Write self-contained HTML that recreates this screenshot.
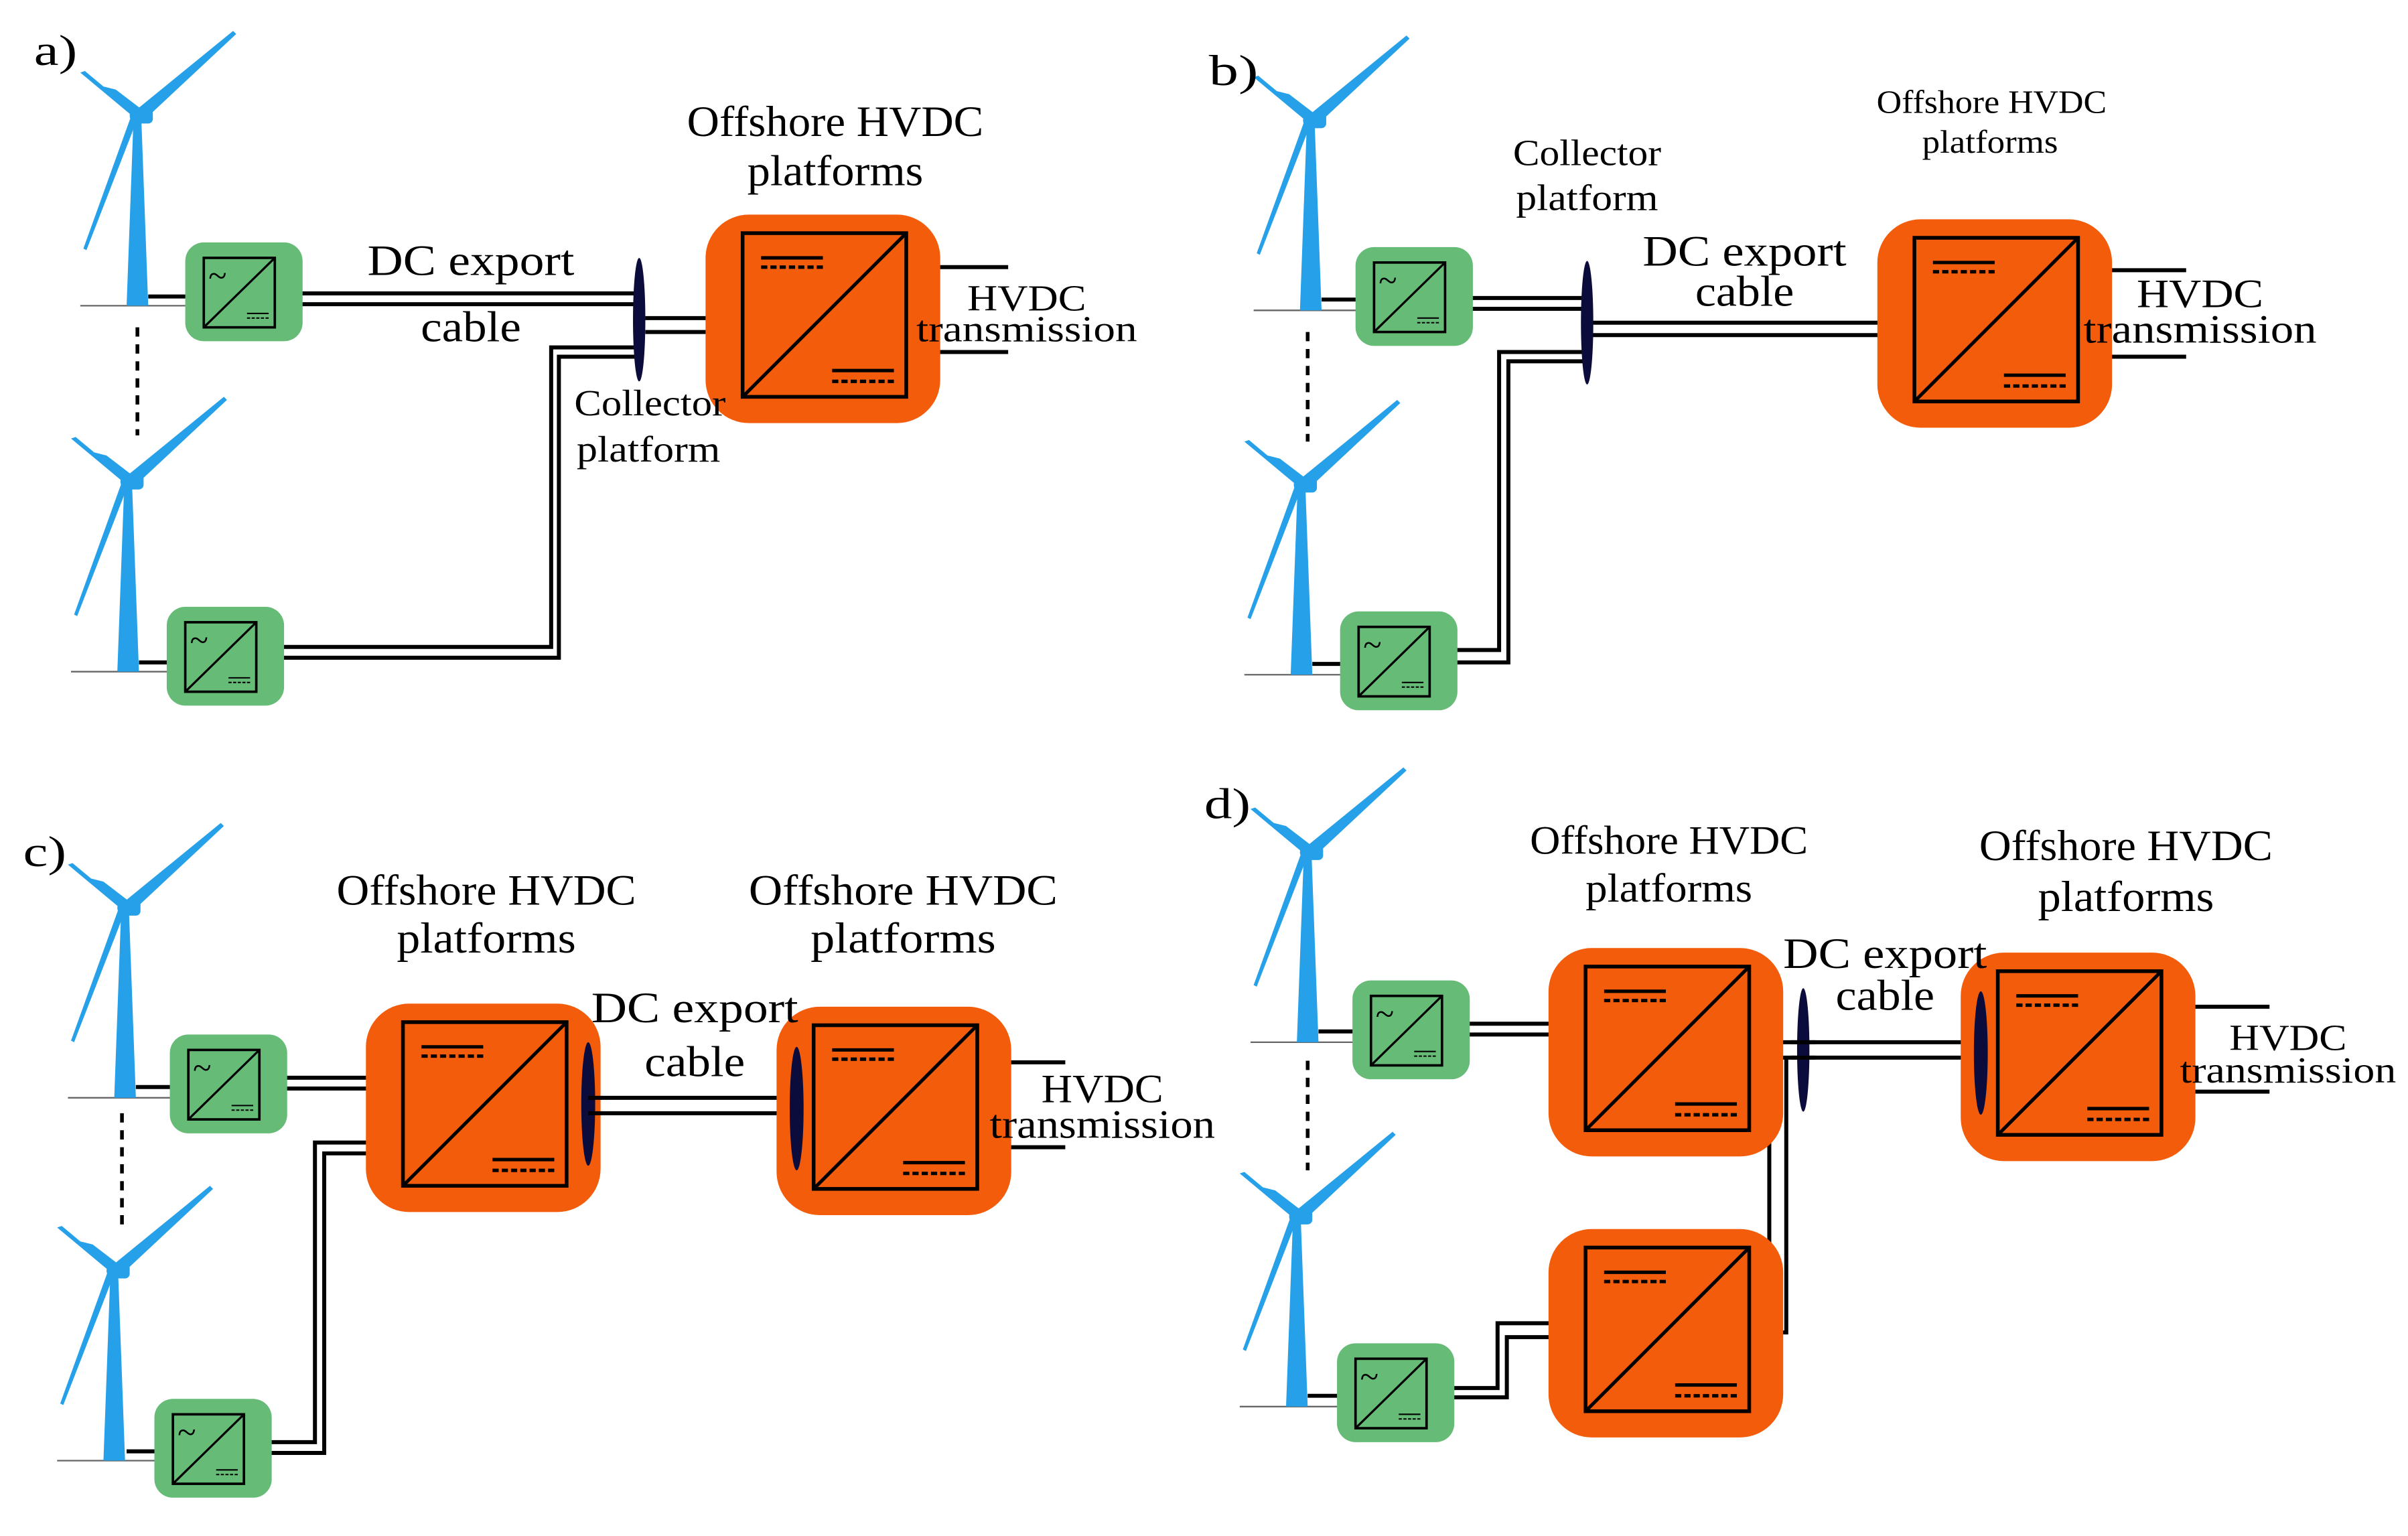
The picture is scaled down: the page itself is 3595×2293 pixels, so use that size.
<!DOCTYPE html>
<html><head><meta charset="utf-8"><style>html,body{margin:0;padding:0;background:#fff}svg{display:block}text{font-family:"Liberation Serif",serif;fill:#000}</style></head><body>
<svg width="3595" height="2293" viewBox="0 0 1559.7 994.8" xmlns="http://www.w3.org/2000/svg">
<defs>
<g id="turb">
<line x1="-37" y1="0" x2="31" y2="0" stroke="#666" stroke-width="1"/>
<polygon points="-7,0 7,0 2.5,-122 -2.5,-122" fill="#26a0e8"/>
<polygon points="-3,-125 62,-178 64,-176 3,-119" fill="#26a0e8"/>
<polygon points="-1,-121 -37,-151 -34,-152 -22,-142 -14,-140 3,-127" fill="#26a0e8"/>
<polygon points="-4,-123 0,-121 -33,-36 -35,-37" fill="#26a0e8"/>
<rect x="-1" y="-128" width="11" height="10" rx="3" fill="#26a0e8"/>
<circle cx="0" cy="-123" r="5" fill="#26a0e8"/>
</g>
<g id="gbox">
<rect x="0" y="0" width="76" height="64" rx="12" fill="#66bb77"/>
<rect x="12" y="10" width="46" height="45" fill="none" stroke="#000" stroke-width="1.6"/>
<line x1="12" y1="55" x2="58" y2="10" stroke="#000" stroke-width="1.4"/>
<line x1="40" y1="46" x2="54" y2="46" stroke="#000" stroke-width="0.9"/>
<line x1="40" y1="49" x2="54" y2="49" stroke="#000" stroke-width="0.9" stroke-dasharray="2,1"/>
</g>
<g id="obox">
<rect x="0" y="0" width="152" height="135" rx="28" fill="#f25c0a"/>
<rect x="24" y="12" width="106" height="106" fill="none" stroke="#000" stroke-width="2.4"/>
<line x1="24" y1="118" x2="130" y2="12" stroke="#000" stroke-width="2.2"/>
<line x1="36" y1="28" x2="76" y2="28" stroke="#000" stroke-width="2.2"/>
<line x1="36" y1="34" x2="76" y2="34" stroke="#000" stroke-width="2.2" stroke-dasharray="4,2"/>
<line x1="82" y1="101" x2="122" y2="101" stroke="#000" stroke-width="2.2"/>
<line x1="82" y1="108" x2="122" y2="108" stroke="#000" stroke-width="2.2" stroke-dasharray="4,2"/>
</g>
</defs>

<g fill="none" stroke="#000" stroke-width="2.6">
<!-- a -->
<line x1="96" y1="192" x2="132" y2="192"/>
<line x1="90" y1="429" x2="120" y2="429"/>
<line x1="178" y1="190" x2="413" y2="190"/><line x1="178" y1="197" x2="413" y2="197"/>
<line x1="418" y1="206" x2="482" y2="206"/><line x1="418" y1="215" x2="482" y2="215"/>
<polyline points="166,419 357,419 357,225 411,225"/><polyline points="166,426 362,426 362,231 411,231"/>
<line x1="595" y1="173" x2="653" y2="173"/><line x1="595" y1="228" x2="653" y2="228"/>
<!-- b -->
<line x1="856" y1="194" x2="890" y2="194"/>
<line x1="850" y1="430" x2="880" y2="430"/>
<line x1="936" y1="193" x2="1026" y2="193"/><line x1="936" y1="200" x2="1026" y2="200"/>
<line x1="1030" y1="209" x2="1240" y2="209"/><line x1="1030" y1="217" x2="1240" y2="217"/>
<polyline points="926,421 971,421 971,228 1026,228"/><polyline points="926,429 977,429 977,234 1026,234"/>
<line x1="1346" y1="175" x2="1416" y2="175"/><line x1="1346" y1="231" x2="1416" y2="231"/>
<!-- c -->
<line x1="88" y1="704" x2="122" y2="704"/>
<line x1="82" y1="940" x2="112" y2="940"/>
<line x1="168" y1="698" x2="261" y2="698"/><line x1="168" y1="705" x2="261" y2="705"/>
<line x1="367" y1="711" x2="530" y2="711"/><line x1="367" y1="721" x2="530" y2="721"/>
<polyline points="158,934 204,934 204,740 261,740"/><polyline points="158,941 210,941 210,747 261,747"/>
<line x1="633" y1="688" x2="690" y2="688"/><line x1="633" y1="743" x2="690" y2="743"/>
<!-- d -->
<line x1="854" y1="668" x2="888" y2="668"/>
<line x1="847" y1="904" x2="878" y2="904"/>
<line x1="934" y1="663" x2="1027" y2="663"/><line x1="934" y1="670" x2="1027" y2="670"/>
<line x1="1133" y1="675" x2="1297" y2="675"/><line x1="1133" y1="685" x2="1297" y2="685"/>
<polyline points="1133,852 1146,852 1146,685"/><polyline points="1133,863 1157,863 1157,685"/>
<polyline points="924,899 970,899 970,857 1027,857"/><polyline points="924,905 976,905 976,866 1027,866"/>
<line x1="1400" y1="652" x2="1470" y2="652"/><line x1="1400" y1="707" x2="1470" y2="707"/>
</g>

<g stroke="#000" stroke-width="2.4" stroke-dasharray="6,5">
<line x1="89" y1="212" x2="89" y2="282"/>
<line x1="847" y1="215" x2="847" y2="286"/>
<line x1="79" y1="721" x2="79" y2="793"/>
<line x1="847" y1="687" x2="847" y2="758"/>
</g>

<use href="#turb" x="89" y="198"/><use href="#turb" x="83" y="435"/>
<use href="#turb" x="849" y="201"/><use href="#turb" x="843" y="437"/>
<use href="#turb" x="81" y="711"/><use href="#turb" x="74" y="946"/>
<use href="#turb" x="847" y="675"/><use href="#turb" x="840" y="911"/>

<use href="#gbox" x="120" y="157"/><use href="#gbox" x="108" y="393"/>
<use href="#gbox" x="878" y="160"/><use href="#gbox" x="868" y="396"/>
<use href="#gbox" x="110" y="670"/><use href="#gbox" x="100" y="906"/>
<use href="#gbox" x="876" y="635"/><use href="#gbox" x="866" y="870"/>

<g font-size="22">
<text x="135" y="186">~</text><text x="123" y="422">~</text>
<text x="893" y="189">~</text><text x="883" y="425">~</text>
<text x="125" y="699">~</text><text x="115" y="935">~</text>
<text x="891" y="664">~</text><text x="881" y="899">~</text>
</g>

<use href="#obox" x="457" y="139"/>
<use href="#obox" x="1216" y="142"/>
<use href="#obox" x="237" y="650"/><use href="#obox" x="503" y="652"/>
<use href="#obox" x="1003" y="614"/><use href="#obox" x="1003" y="796"/><use href="#obox" x="1270" y="617"/>

<g fill="#0c0c3c">
<ellipse cx="414" cy="207" rx="4" ry="40"/>
<ellipse cx="1028" cy="209" rx="4" ry="40"/>
<ellipse cx="381" cy="715" rx="4.5" ry="40"/>
<ellipse cx="516" cy="718" rx="4.5" ry="40"/>
<ellipse cx="1168" cy="680" rx="4" ry="40"/>
<ellipse cx="1283" cy="682" rx="4.5" ry="40"/>
</g>
<g stroke="#000" stroke-width="2.6">
<line x1="381" y1="711" x2="390" y2="711"/><line x1="381" y1="721" x2="390" y2="721"/>
<line x1="1160" y1="675" x2="1176" y2="675"/><line x1="1160" y1="685" x2="1176" y2="685"/>
</g>

<g font-size="28" text-anchor="middle">
<text x="36" y="42" textLength="28" lengthAdjust="spacingAndGlyphs">a)</text>
<text x="799" y="55" textLength="32" lengthAdjust="spacingAndGlyphs">b)</text>
<text x="29" y="561" textLength="28" lengthAdjust="spacingAndGlyphs">c)</text>
<text x="795" y="530" textLength="30" lengthAdjust="spacingAndGlyphs">d)</text>

<text x="541" y="88" textLength="192" lengthAdjust="spacingAndGlyphs">Offshore HVDC</text>
<text x="541" y="120" textLength="114" lengthAdjust="spacingAndGlyphs">platforms</text>
<text x="305" y="178" textLength="134" lengthAdjust="spacingAndGlyphs">DC export</text>
<text x="305" y="221" textLength="65" lengthAdjust="spacingAndGlyphs">cable</text>
<text x="421" y="269" font-size="24" textLength="98" lengthAdjust="spacingAndGlyphs">Collector</text>
<text x="420" y="299" font-size="24" textLength="93" lengthAdjust="spacingAndGlyphs">platform</text>
<text x="665" y="201" font-size="24" textLength="77" lengthAdjust="spacingAndGlyphs">HVDC</text>
<text x="665" y="221" font-size="24" textLength="143" lengthAdjust="spacingAndGlyphs">transmission</text>

<text x="1028" y="107" font-size="24" textLength="96" lengthAdjust="spacingAndGlyphs">Collector</text>
<text x="1028" y="136" font-size="24" textLength="92" lengthAdjust="spacingAndGlyphs">platform</text>
<text x="1290" y="73" font-size="21" textLength="149" lengthAdjust="spacingAndGlyphs">Offshore HVDC</text>
<text x="1289" y="99" font-size="21" textLength="88" lengthAdjust="spacingAndGlyphs">platforms</text>
<text x="1130" y="172" textLength="132" lengthAdjust="spacingAndGlyphs">DC export</text>
<text x="1130" y="198" textLength="64" lengthAdjust="spacingAndGlyphs">cable</text>
<text x="1425" y="199" font-size="26" textLength="82" lengthAdjust="spacingAndGlyphs">HVDC</text>
<text x="1425" y="222" font-size="26" textLength="151" lengthAdjust="spacingAndGlyphs">transmission</text>

<text x="315" y="586" textLength="194" lengthAdjust="spacingAndGlyphs">Offshore HVDC</text>
<text x="315" y="617" textLength="116" lengthAdjust="spacingAndGlyphs">platforms</text>
<text x="585" y="586" textLength="200" lengthAdjust="spacingAndGlyphs">Offshore HVDC</text>
<text x="585" y="617" textLength="120" lengthAdjust="spacingAndGlyphs">platforms</text>
<text x="450" y="662" textLength="134" lengthAdjust="spacingAndGlyphs">DC export</text>
<text x="450" y="697" textLength="65" lengthAdjust="spacingAndGlyphs">cable</text>
<text x="714" y="714" font-size="26" textLength="79" lengthAdjust="spacingAndGlyphs">HVDC</text>
<text x="714" y="737" font-size="26" textLength="146" lengthAdjust="spacingAndGlyphs">transmission</text>

<text x="1081" y="553" font-size="26" textLength="180" lengthAdjust="spacingAndGlyphs">Offshore HVDC</text>
<text x="1081" y="584" font-size="26" textLength="108" lengthAdjust="spacingAndGlyphs">platforms</text>
<text x="1377" y="557" textLength="190" lengthAdjust="spacingAndGlyphs">Offshore HVDC</text>
<text x="1377" y="590" textLength="114" lengthAdjust="spacingAndGlyphs">platforms</text>
<text x="1221" y="627" textLength="132" lengthAdjust="spacingAndGlyphs">DC export</text>
<text x="1221" y="654" textLength="64" lengthAdjust="spacingAndGlyphs">cable</text>
<text x="1482" y="680" font-size="24" textLength="76" lengthAdjust="spacingAndGlyphs">HVDC</text>
<text x="1482" y="701" font-size="24" textLength="140" lengthAdjust="spacingAndGlyphs">transmission</text>
</g>
</svg>
</body></html>
